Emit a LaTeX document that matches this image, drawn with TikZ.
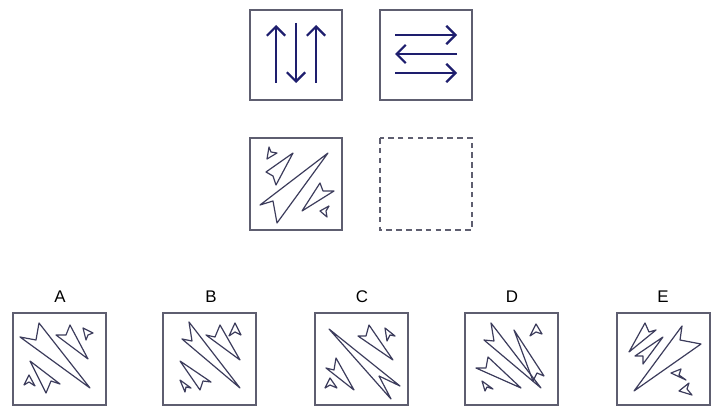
\documentclass[tikz,border=0pt]{standalone}
\usepackage{fontspec}
\setmainfont{Liberation Sans}
\usetikzlibrary{arrows.meta, positioning}

\definecolor{framegray}{HTML}{5E5E70}
\definecolor{arrownavy}{HTML}{1E1E6E}
\definecolor{boltgray}{HTML}{3C3C5C}

\begin{document}
\begin{tikzpicture}[x=0.025cm, y=-0.025cm,
    panel/.style={draw=framegray, line width=1.1pt},
    gap/.style={draw=framegray, line width=1.1pt, dash pattern=on 4pt off 3pt},
    arr/.style={draw=arrownavy, line width=1.6pt, -{Straight Barb[length=6.5pt, width=13pt]}},
    bolt/.style={draw=boltgray, line width=0.85pt, line join=round},
    lbl/.style={font=\fontsize{12}{14}\selectfont, inner sep=0pt}]
    \useasboundingbox[fill=white] (0,0) rectangle (724,407);

    % Question row 1: vertical arrows
    \begin{scope}[shift={(250,10)}]
        \draw[panel] (0,0) rectangle (92,90);
        \draw[arr] (26,73) -- (26,15);
        \draw[arr] (46,13) -- (46,73);
        \draw[arr] (66,73) -- (66,15);
    \end{scope}
    % Question row 1: horizontal arrows
    \begin{scope}[shift={(380,10)}]
        \draw[panel] (0,0) rectangle (92,90);
        \draw[arr] (15,25) -- (77,25);
        \draw[arr] (77,44) -- (15,44);
        \draw[arr] (15,63) -- (77,63);
    \end{scope}

    % Question row 2: bolts
    \begin{scope}[shift={(250,138)}]
        \draw[panel] (0,0) rectangle (92,92);
        \draw[bolt] (78,15) -- (10,67) -- (23,63) -- (27,85) -- cycle;
        \draw[bolt] (43,15) -- (16,34) -- (23,38) -- (26,47) -- cycle;
        \draw[bolt] (17,21) -- (19,9) -- (21,14) -- (27,15) -- cycle;
        \draw[bolt] (52,73) -- (70,45) -- (73,53) -- (84,53) -- cycle;
        \draw[bolt] (70,73) -- (79,68) -- (76,73) -- (77,79) -- cycle;
    \end{scope}
    % Missing panel
    \draw[gap] (380,138) rectangle (472,230);

    % Answer labels
    \node[lbl] (lA) at (60,297) {A};
    \node[lbl] (lB) at (211,297) {B};
    \node[lbl] (lC) at (362,297) {C};
    \node[lbl] (lD) at (512,297) {D};
    \node[lbl] (lE) at (663,297) {E};

    % Option A
    \begin{scope}[shift={(13,313)}]
        \draw[panel] (0,0) rectangle (93,92);
        \draw[bolt] (77,75) -- (7,24) -- (23,27) -- (26,10) -- cycle;
        \draw[bolt] (75,46) -- (43,22) -- (53,22) -- (57,12) -- cycle;
        \draw[bolt] (70,15) -- (80,20) -- (75,22) -- (73,27) -- cycle;
        \draw[bolt] (17,48) -- (33,80) -- (38,68) -- (47,71) -- cycle;
        \draw[bolt] (16,62) -- (11,72) -- (16,69) -- (22,73) -- cycle;
    \end{scope}
    % Option B
    \begin{scope}[shift={(163,313)}]
        \draw[panel] (0,0) rectangle (93,92);
        \draw[bolt] (77,75) -- (19,26) -- (29,28) -- (26,9) -- cycle;
        \draw[bolt] (77,47) -- (43,22) -- (52,24) -- (57,12) -- cycle;
        \draw[bolt] (72,10) -- (66,23) -- (72,19) -- (78,22) -- cycle;
        \draw[bolt] (17,48) -- (37,77) -- (40,68) -- (48,69) -- cycle;
        \draw[bolt] (17,67) -- (22,79) -- (23,74) -- (28,75) -- cycle;
    \end{scope}
    % Option C
    \begin{scope}[shift={(315,313)}]
        \draw[panel] (0,0) rectangle (93,92);
        \draw[bolt] (14,16) -- (85,73) -- (64,63) -- (76,86) -- cycle;
        \draw[bolt] (78,47) -- (43,23) -- (51,23) -- (54,12) -- cycle;
        \draw[bolt] (70,15) -- (80,23) -- (75,22) -- (72,28) -- cycle;
        \draw[bolt] (39,77) -- (11,55) -- (19,57) -- (21,45) -- cycle;
        \draw[bolt] (15,65) -- (10,75) -- (15,72) -- (22,75) -- cycle;
    \end{scope}
    % Option D
    \begin{scope}[shift={(465,313)}]
        \draw[panel] (0,0) rectangle (93,92);
        \draw[bolt] (76,75) -- (19,27) -- (29,28) -- (26,10) -- cycle;
        \draw[bolt] (49,17) -- (68,68) -- (72,60) -- (79,63) -- cycle;
        \draw[bolt] (71,11) -- (65,23) -- (71,19) -- (77,21) -- cycle;
        \draw[bolt] (56,75) -- (11,55) -- (21,55) -- (23,44) -- cycle;
        \draw[bolt] (17,68) -- (20,78) -- (22,74) -- (28,76) -- cycle;
    \end{scope}
    % Option E
    \begin{scope}[shift={(617,313)}]
        \draw[panel] (0,0) rectangle (93,92);
        \draw[bolt] (17,78) -- (65,13) -- (63,27) -- (84,31) -- cycle;
        \draw[bolt] (12,39) -- (28,10) -- (32,19) -- (39,17) -- cycle;
        \draw[bolt] (46,24) -- (18,43) -- (26,43) -- (26,51) -- cycle;
        \draw[bolt] (54,60) -- (64,56) -- (62,62) -- (69,67) -- cycle;
        \draw[bolt] (62,78) -- (72,70) -- (70,76) -- (75,82) -- cycle;
    \end{scope}
\end{tikzpicture}
\end{document}
